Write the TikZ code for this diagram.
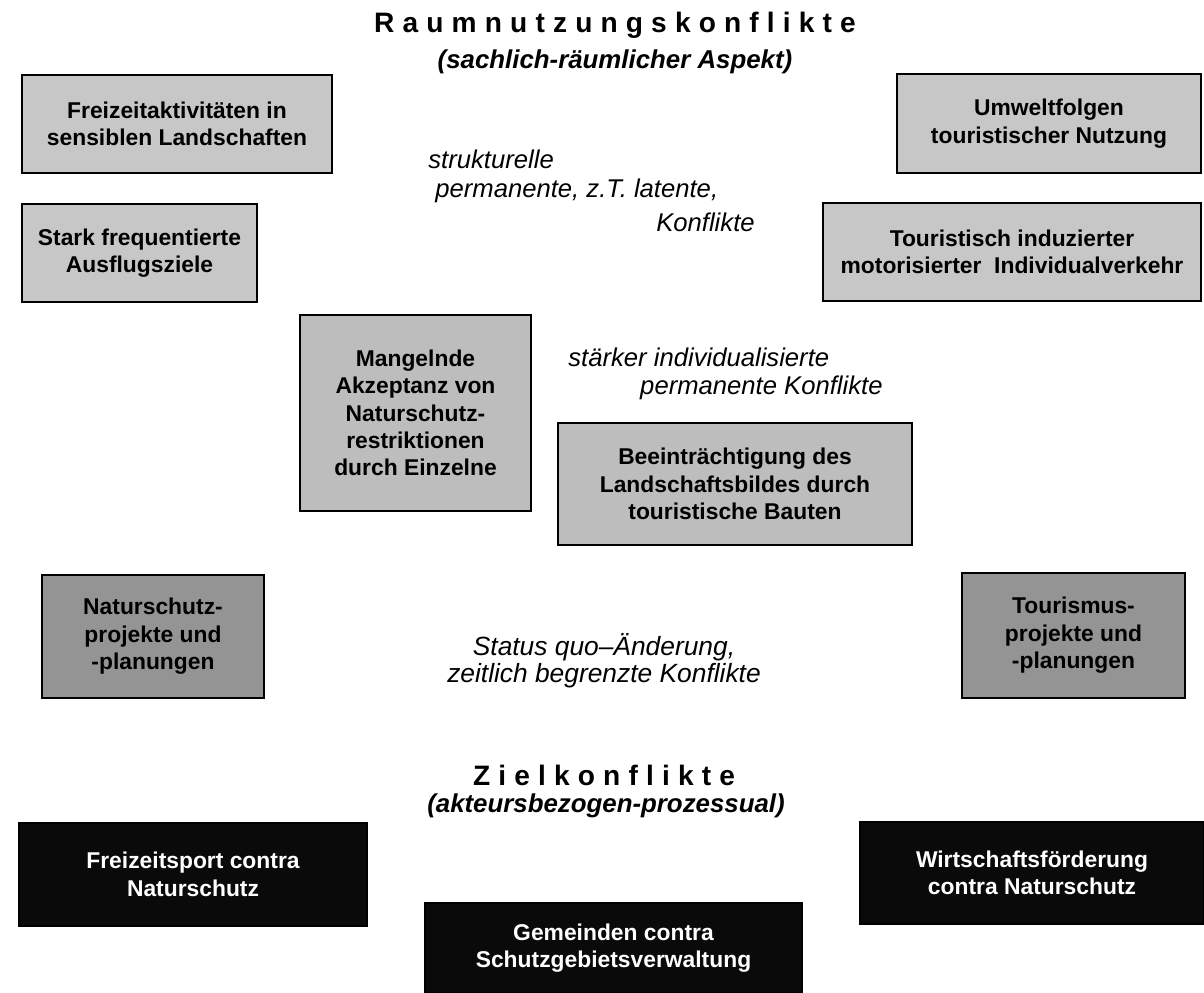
\documentclass[tikz,border=0pt]{standalone}
\usepackage{fontspec}
\setmainfont{Liberation Sans}
\definecolor{grauhell}{gray}{0.78}
\definecolor{graumittel}{gray}{0.74}
\definecolor{graudunkel}{gray}{0.58}
\definecolor{grauschwarz}{gray}{0.04}

\begin{document}
\begin{tikzpicture}[x=0.02cm, y=-0.02cm,
  kasten/.style={draw, line width=1pt, rectangle, inner sep=0pt, align=center,
    font=\bfseries\fontsize{13}{15.6}\selectfont},
  hell/.style={kasten, fill=grauhell},
  mittel/.style={kasten, fill=graumittel},
  dunkel/.style={kasten, fill=graudunkel},
  schwarz/.style={kasten, fill=grauschwarz, text=white},
  titel/.style={inner sep=0pt, font={\bfseries\fontsize{16}{19}\selectfont\addfontfeature{LetterSpace=29}}},
  untertitel/.style={inner sep=0pt, font=\bfseries\itshape\fontsize{14.7}{18}\selectfont},
  kursiv/.style={inner sep=0pt, font=\itshape\fontsize{14.6}{17.5}\selectfont}]
\useasboundingbox (0,0) rectangle (1204,993);
\fill[white] (0,0) rectangle (1204,993);

% Raumnutzungskonflikte
\node[titel] (raum) at (615,25) {Raumnutzungskonflikte};
\node[untertitel] (raumsub) at (615,62) {(sachlich-räumlicher Aspekt)};

% strukturelle Konflikte
\node[hell, minimum width=6.2cm, minimum height=1.96cm] (frei) at (177,124) {Freizeitaktivitäten in\\sensiblen Landschaften};
\node[hell, minimum width=4.7cm, minimum height=1.96cm] (stark) at (139.5,253) {Stark frequentierte\\Ausflugsziele};
\node[hell, minimum width=6.08cm, minimum height=1.98cm] (umwelt) at (1049,123.5) {Umweltfolgen\\touristischer Nutzung};
\node[hell, minimum width=7.56cm, minimum height=1.96cm] (verkehr) at (1012,252) {Touristisch induzierter\\motorisierter\ \ Individualverkehr};
\node[kursiv, anchor=west] (strukt1) at (428,159) {strukturelle};
\node[kursiv, anchor=west] (strukt2) at (435,191) {permanente, z.T. latente,};
\node[kursiv, anchor=east] (strukt3) at (755,222) {Konflikte};

% individualisierte Konflikte
\node[mittel, minimum width=4.62cm, minimum height=3.92cm] (akzeptanz) at (415.5,413) {Mangelnde\\Akzeptanz von\\Naturschutz-\\restriktionen\\durch Einzelne};
\node[mittel, minimum width=7.08cm, minimum height=2.44cm] (bild) at (735,484) {Beeinträchtigung des\\Landschaftsbildes durch\\touristische Bauten};
\node[kursiv, anchor=west] (indiv1) at (568,357) {stärker individualisierte};
\node[kursiv, anchor=east] (indiv2) at (883,388) {permanente Konflikte};

% Status quo
\node[dunkel, minimum width=4.44cm, minimum height=2.46cm] (natproj) at (153,636.5) {Naturschutz-\\projekte und\\-planungen};
\node[dunkel, minimum width=4.46cm, minimum height=2.5cm] (tourproj) at (1073.5,635.5) {Tourismus-\\projekte und\\-planungen};
\node[kursiv, align=center, font=\itshape\fontsize{15}{15.4}\selectfont] (status) at (604,661) {Status quo--Änderung,\\zeitlich begrenzte Konflikte};

% Zielkonflikte
\node[titel] (ziel) at (604,775) {Zielkonflikte};
\node[untertitel] (zielsub) at (606,806) {(akteursbezogen-prozessual)};
\node[schwarz, minimum width=6.96cm, minimum height=2.06cm] (sport) at (193,874.5) {Freizeitsport contra\\Naturschutz};
\node[schwarz, minimum width=6.88cm, minimum height=2.04cm] (wirt) at (1032,873) {Wirtschaftsförderung\\contra Naturschutz};
\node[schwarz, minimum width=7.54cm, minimum height=1.8cm] (gemeinde) at (613.5,948) {Gemeinden contra\\Schutzgebietsverwaltung};
\end{tikzpicture}
\end{document}
